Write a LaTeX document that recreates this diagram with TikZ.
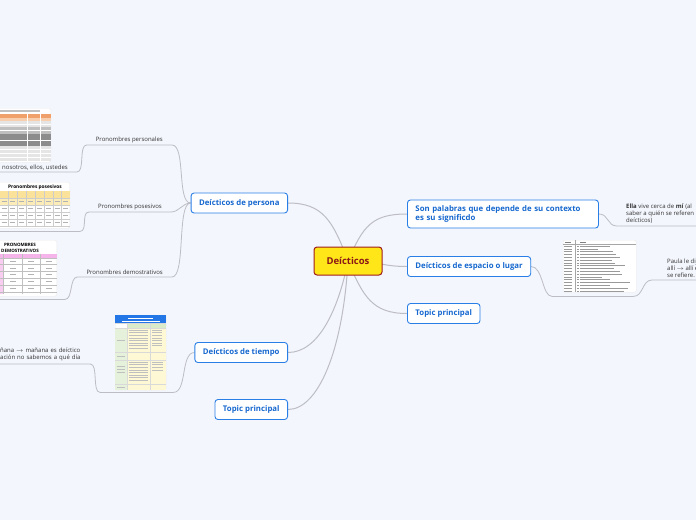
\documentclass[tikz,border=0pt]{standalone}
\usepackage{fontspec}
\setmainfont{Open Sans}
\usetikzlibrary{positioning, calc, backgrounds}
\definecolor{canvas}{HTML}{F3F6FD}
\definecolor{topicblue}{HTML}{2A7FE6}
\definecolor{topictext}{HTML}{1668CF}
\definecolor{rootfill}{HTML}{FFE619}
\definecolor{rootline}{HTML}{9E1C1C}
\definecolor{roottext}{HTML}{8A1616}
\definecolor{linkgray}{HTML}{BDBDC5}
\definecolor{subtext}{HTML}{333333}
\definecolor{persA}{HTML}{F0A06A}
\definecolor{persB}{HTML}{F8CFAE}
\definecolor{posA}{HTML}{FAE29A}
\definecolor{posB}{HTML}{FCEDB8}
\definecolor{demA}{HTML}{F5B5EA}
\definecolor{demB}{HTML}{F9CDF2}
\definecolor{tiemA}{HTML}{2376E6}
\definecolor{tiemB}{HTML}{D9EBC9}
\definecolor{tiemC}{HTML}{E5F1DB}
\definecolor{tiemD}{HTML}{FFF8D5}

\begin{document}
\begin{tikzpicture}[x=1pt, y=-1pt,
    root/.style={draw=rootline, line width=1pt, fill=rootfill, rounded corners=3pt, minimum width=68pt, minimum height=28pt, font=\fontsize{9.5}{11}\selectfont\bfseries, text=roottext},
    topic/.style={draw=topicblue, line width=0.9pt, fill=white, rounded corners=3pt, minimum height=20pt, inner xsep=8pt, font=\fontsize{7.8}{9}\selectfont\bfseries, text=topictext},
    sub/.style={inner xsep=9pt, inner ysep=2pt, font=\fontsize{6}{7}\selectfont, text=subtext},
    note/.style={inner ysep=2pt, align=left, font=\fontsize{6}{7}\selectfont, text=subtext},
    img/.style={fill=white, draw=black!8, inner sep=0pt, rounded corners=1.5pt},
    link/.style={draw=linkgray, line width=1pt},
    twig/.style={draw=linkgray, line width=0.8pt},
    cell/.style={black!30, line width=0.45pt}]
    \useasboundingbox (0,0) rectangle (696,520);
    \begin{pgfonlayer}{background}
        \fill[canvas] (0,0) rectangle (696,520);
    \end{pgfonlayer}

    \node[root] (root) at (348,261) {Deícticos};
    \node[topic, anchor=east] (persona) at (288,203) {Deícticos de persona};
    \node[topic, anchor=east] (tiempo) at (288,352.5) {Deícticos de tiempo};
    \node[topic, anchor=east] (topicL) at (288,409.5) {Topic principal};
    \node[topic, anchor=west, align=left, text width=175pt, minimum height=28pt] (sonpal) at (407,214) {Son palabras que depende de su contexto\\es su significdo};
    \node[topic, anchor=west] (espacio) at (407,266.5) {Deícticos de espacio o lugar};
    \node[topic, anchor=west] (topicR) at (407,313.5) {Topic principal};

    \node[sub, anchor=south east] (pp) at (172,145) {Pronombres personales};
    \node[sub, anchor=south east] (pposs) at (171,212) {Pronombres posesivos};
    \node[sub, anchor=south east] (pdem) at (172,277) {Pronombres demostrativos};

    \node[img, anchor=north east, minimum width=60pt, minimum height=54pt] (persimg) at (51,108) {};
    \fill[black!25] (0,109.5) rectangle (40,111.5);
    \fill[persA] (-9,113.5) rectangle (51,118);
    \fill[persB] (-9,118) rectangle (51,121);
    \fill[black!10] (-9,121) rectangle (51,127);
    \fill[black!25] (-9,127) rectangle (51,134);
    \fill[black!45] (-9,134) rectangle (51,146);
    \fill[black!10] (-9,146) rectangle (51,161);
    \draw[white, line width=0.5pt] (27,113.5) -- (27,161) (40,113.5) -- (40,161);
    \foreach \y in {124,130.5,140,149.5,153,157} \draw[white, line width=0.4pt] (-9,\y) -- (51,\y);
    \node[note, anchor=south east, inner xsep=9pt] (nos) at (77,172) {nosotros, ellos, ustedes};

    \node[img, anchor=north east, minimum width=75pt, minimum height=46pt] (posimg) at (70,182) {};
    \node[inner sep=0pt, font=\fontsize{4.8}{5}\selectfont\bfseries] (postitle) at (35,187) {Pronombres posesivos};
    \fill[posA] (-5,190.5) rectangle (70,198);
    \fill[posB] (-5,198) rectangle (70,205);
    \foreach \x in {8.5,17,26,35,44,53,61} \draw[black!20, line width=0.3pt] (\x,190.5) -- (\x,226);
    \foreach \y in {198,205,212,219,226} \draw[black!20, line width=0.3pt] (-5,\y) -- (70,\y);
    \foreach \x in {4,12.75,21.5,30.5,39.5,48.5,57,65.5}
        \foreach \y in {201.5,208.5,215.5,222.5} \draw[cell] (\x-2.5,\y) -- (\x+2.5,\y);

    \node[img, anchor=north east, minimum width=72pt, minimum height=56pt] (demimg) at (57,240) {};
    \node[inner sep=0pt, align=center, font=\fontsize{4.5}{5.5}\selectfont\bfseries] (demtitle) at (20,248) {PRONOMBRES\\DEMOSTRATIVOS};
    \fill[demA] (-15,254) rectangle (57,258);
    \fill[demB] (-15,258) rectangle (3,294);
    \foreach \y in {258,264.5,271,278,285,292} \draw[black!25, line width=0.3pt] (-15,\y) -- (57,\y);
    \foreach \x in {3,22,40} \draw[black!25, line width=0.3pt] (\x,254) -- (\x,294);
    \foreach \x in {12.5,31,48.5}
        \foreach \y in {261,268,274.5,281.5,288.5} \draw[cell] (\x-3,\y) -- (\x+3,\y);

    \node[img, anchor=north west, minimum width=51pt, minimum height=75pt] (tiemimg) at (115,315) {};
    \fill[tiemA] (115,315) rectangle (166,323);
    \draw[white, line width=0.4pt] (128,318) -- (153,318) (122,321) -- (160,321);
    \fill[tiemB] (127,323) rectangle (166,328);
    \fill[tiemC] (115,328) rectangle (127,390);
    \fill[tiemD] (127,328) rectangle (166,390);
    \foreach \y in {323,328,352,360,384} \draw[black!15, line width=0.3pt] (115,\y) -- (166,\y);
    \foreach \x in {127,150} \draw[black!15, line width=0.3pt] (\x,323) -- (\x,390);
    \foreach \y in {330,332.6,...,350} \draw[black!25, line width=0.4pt] (129,\y) -- (148,\y);
    \foreach \y in {362,364.6,...,382} \draw[black!25, line width=0.4pt] (129,\y) -- (148,\y);
    \foreach \y in {330,332.6,...,348} \draw[black!25, line width=0.4pt] (152,\y) -- (162,\y);
    \foreach \y in {362,364.6,...,372} \draw[black!25, line width=0.4pt] (152,\y) -- (163,\y);
    \foreach \y in {340,356,366,369,372,387} \draw[black!25, line width=0.4pt] (117,\y) -- (125,\y);
    \node[note, anchor=south west, inner xsep=0pt, inner ysep=3pt, text width=90pt] (tiemtxt) at (0,364) {ñana $\rightarrow$ mañana es deíctico\\ación no sabemos a qué día};

    \node[note, anchor=south west, inner xsep=9pt] (ella) at (617,226) {\textbf{Ella} vive cerca de \textbf{mí} (al\\saber a quién se referen\\deícticos)};

    \node[img, anchor=north west, minimum width=73pt, minimum height=52pt] (espimg) at (563,240) {};
    \draw[black!50, line width=0.4pt] (565,242) -- (571,242) (580,242) -- (586,242);
    \draw[black!35, line width=0.3pt] (563,244) -- (636,244) (575,240) -- (575,292);
    \foreach \y/\l in {246/30,248.8/18,251.6/33,254.4/36,257.2/40,260/32,262.8/35,265.6/45,268.4/34,271.2/40,274/42,276.8/22,279.6/30,282.4/50,285.2/30,288/48,290.8/44}
        \draw[black!40, line width=0.4pt] (564,\y) -- (572,\y) (577,\y) -- (578.5,\y) (580,\y) -- (580+\l,\y);
    \node[note, anchor=south west, inner xsep=15pt] (paula) at (652,280) {Paula le dij\\allí $\rightarrow$ allí e\\se refiere.};

    \begin{pgfonlayer}{background}
        \foreach \t/\c/\d in {persona.east/{-15,-40}/{35,0}, tiempo.east/{-10,50}/{30,0}, topicL.east/{-5,90}/{30,0},
                              sonpal.west/{15,-35}/{-35,0}, espacio.west/{30,0}/{-25,0}, topicR.west/{15,35}/{-35,0}}
            \draw[link] (root.center) .. controls +(\c) and +(\d) .. (\t);
        \draw[twig] (persona.west) .. controls +(-14,0) and +(14,0) .. (pp.south east) -- (pp.south west)
            .. controls +(-8,0) and +(8,0) .. (nos.south east) -- (nos.south west);
        \draw[twig] (persona.west) .. controls +(-8,0) and +(8,0) .. (pposs.south east) -- (pposs.south west)
            .. controls +(-8,0) and +(8,0) .. ($(posimg.south east)+(10,3)$) -- ($(posimg.south west)+(0,3)$);
        \draw[twig] (persona.west) .. controls +(-14,0) and +(14,0) .. (pdem.south east) -- (pdem.south west)
            .. controls +(-8,0) and +(8,0) .. ($(demimg.south east)+(8,3)$) -- ($(demimg.south west)+(0,3)$);
        \draw[twig] (tiempo.west) .. controls +(-14,0) and +(14,0) .. ($(tiemimg.south east)+(7,2)$) -- ($(tiemimg.south west)+(-15,2)$)
            .. controls +(-8,0) and +(8,0) .. (tiemtxt.south east) -- (tiemtxt.south west);
        \draw[twig] (sonpal.east) .. controls +(10,0) and +(-10,0) .. (ella.south west) -- ($(ella.south east)+(10,0)$);
        \draw[twig] (espacio.east) .. controls +(12,0) and +(-10,0) .. ($(espimg.south west)+(-11,4)$) -- ($(espimg.south east)+(-3,4)$)
            .. controls +(10,0) and +(-10,0) .. (paula.south west) -- ($(paula.south east)+(10,0)$);
    \end{pgfonlayer}
\end{tikzpicture}
\end{document}
